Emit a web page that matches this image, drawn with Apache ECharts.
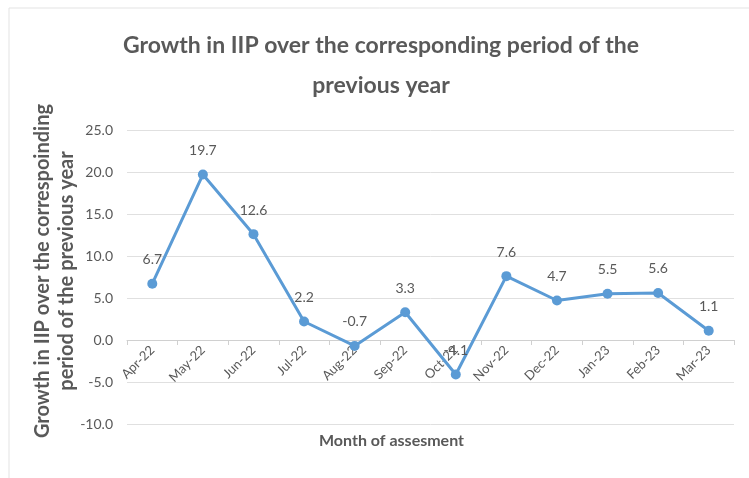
<!DOCTYPE html>
<html>
<head>
<meta charset="utf-8">
<script src="https://cdn.jsdelivr.net/npm/echarts@6/dist/echarts.min.js"></script>
<style>
  html, body { margin: 0; padding: 0; background: #fff; }
  #chart { width: 749px; height: 478px; }
</style>
</head>
<body>
<div id="chart"></div>
<script>
// Monthly IIP growth, FY 2022-23
const months = ['Apr-22', 'May-22', 'Jun-22', 'Jul-22', 'Aug-22', 'Sep-22', 'Oct-22', 'Nov-22', 'Dec-22', 'Jan-23', 'Feb-23', 'Mar-23'];
const growth = [6.7, 19.7, 12.6, 2.2, -0.7, 3.3, -4.1, 7.6, 4.7, 5.5, 5.6, 1.1];

const textGray = '#595959';
const font = 'Lato, "Open Sans", sans-serif';

const chart = echarts.init(document.getElementById('chart'), null, { renderer: 'canvas' });
chart.setOption({
  backgroundColor: '#ffffff',
  animation: false,
  title: {
    text: 'Growth in IIP over the corresponding period of the\nprevious year',
    left: 376,
    top: 21,
    textAlign: 'center',
    textStyle: {
      color: textGray,
      fontFamily: font,
      fontSize: 23,
      fontWeight: 'bold',
      lineHeight: 40
    }
  },
  graphic: [{
    type: 'rect',
    shape: { x: 9, y: 8, width: 760, height: 490 },
    style: { fill: 'none', stroke: '#e3e3e3', lineWidth: 1 },
    silent: true
  }],
  grid: { left: 127, right: 15, top: 130, bottom: 54, outerBoundsMode: 'none', containLabel: false },
  xAxis: {
    type: 'category',
    data: months,
    boundaryGap: true,
    // category axis drawn along the 0.0 line (84px above the plot bottom)
    offset: -84,
    name: 'Month of assesment',
    nameLocation: 'middle',
    nameGap: 93,
    nameMoveOverlap: false,
    nameTextStyle: { color: textGray, fontFamily: font, fontSize: 16, fontWeight: 'bold', padding: [0, 78, 0, 0] },
    axisLine: { show: true, onZero: false, lineStyle: { color: '#d0d0d0', width: 1 } },
    axisTick: { show: true, length: 5, lineStyle: { color: '#d0d0d0' } },
    axisLabel: {
      rotate: 45,
      color: textGray,
      fontFamily: font,
      fontSize: 13,
      margin: 8
    }
  },
  yAxis: {
    type: 'value',
    min: -10,
    max: 25,
    interval: 5,
    name: 'Growth in IIP over the correspoinding\nperiod of the previous year',
    nameLocation: 'middle',
    nameGap: 48,
    nameMoveOverlap: false,
    nameTextStyle: { color: textGray, fontFamily: font, fontSize: 20, fontWeight: 'bold', lineHeight: 24, padding: [0, 0, 0, 12] },
    axisLine: { show: false },
    axisTick: { show: false },
    axisLabel: {
      color: textGray,
      fontFamily: font,
      fontSize: 14,
      margin: 14,
      formatter: v => v.toFixed(1)
    },
    splitLine: { lineStyle: { color: '#e0e0e0', width: 1 } }
  },
  series: [{
    type: 'line',
    data: growth,
    symbol: 'circle',
    symbolSize: 10,
    lineStyle: { color: '#5b9bd5', width: 3 },
    itemStyle: { color: '#5b9bd5' },
    label: {
      show: true,
      position: 'top',
      distance: 12,
      color: textGray,
      fontFamily: font,
      fontSize: 14,
      formatter: p => p.value.toFixed(1)
    },
    z: 3
  }]
});
</script>
</body>
</html>
